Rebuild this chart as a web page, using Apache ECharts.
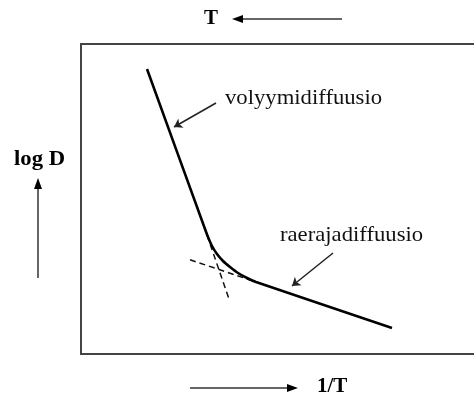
<!DOCTYPE html>
<html>
<head>
<meta charset="utf-8">
<script src="https://cdn.jsdelivr.net/npm/echarts@6/dist/echarts.min.js"></script>
<style>
  html, body { margin: 0; padding: 0; background: #fff; }
  #chart { width: 474px; height: 396px; }
</style>
</head>
<body>
<div id="chart"></div>
<script>
// Arrhenius-type sketch: log D against 1/T (arbitrary units)
const invT = [16.5, 31, 31.75, 32.75, 34, 35.5, 37.25, 39.25, 41.5, 43.75, 77.75];
const logD = [57, 25, 23.4, 21.6, 20, 18.6, 17.4, 16.2, 15.2, 14.4, 5.2];

// Dashed extrapolations of the two straight regimes
const volumeGuide = [[31.5, 23.8], [37, 11]];
const boundaryGuide = [[27.25, 18.85], [43.75, 14.4]];

// Annotation pointers: [tail, head]
const volumeArrow = [[33.75, 50.2], [23.25, 45.4]];
const boundaryArrow = [[63, 20.2], [52.75, 13.6]];

// Annotation texts and their left-centre anchors
const labels = ['volyymidiffuusio', 'raerajadiffuusio'];
const labelAnchors = [[36, 51.2], [49.75, 23.8]];

const serif = '"Liberation Serif", "Times New Roman", serif';

const chart = echarts.init(document.getElementById('chart'), null, { renderer: 'canvas' });

chart.setOption({
  animation: false,
  backgroundColor: '#fff',
  grid: {
    left: 81, top: 44, width: 400, height: 310,
    outerBoundsMode: 'none',
    containLabel: false,
    show: true, borderColor: '#444', borderWidth: 2, backgroundColor: 'transparent'
  },
  xAxis: { type: 'value', min: 0, max: 100, show: false },
  yAxis: { type: 'value', min: 0, max: 62, show: false },
  series: [
    {
      type: 'line',
      data: invT.map((x, i) => [x, logD[i]]),
      symbol: 'none',
      smooth: 0.2,
      lineStyle: { color: '#000', width: 2.6 },
      z: 5
    },
    {
      type: 'line',
      data: volumeGuide,
      symbol: 'none',
      lineStyle: { color: '#111', width: 1.5, type: [6, 4] },
      z: 4
    },
    {
      type: 'line',
      data: boundaryGuide,
      symbol: 'none',
      lineStyle: { color: '#111', width: 1.5, type: [6, 4] },
      z: 4
    },
    {
      type: 'lines',
      coordinateSystem: 'cartesian2d',
      symbol: ['none', 'arrow'],
      symbolSize: 8,
      lineStyle: { color: '#222', width: 1.5, curveness: 0, opacity: 1 },
      data: [{ coords: volumeArrow }, { coords: boundaryArrow }],
      z: 6
    }
  ]
});

// Place the annotation texts at their data anchors
const annotationText = labels.map((txt, i) => {
  const p = chart.convertToPixel({ gridIndex: 0 }, labelAnchors[i]);
  return {
    type: 'text',
    x: p[0], y: p[1],
    scaleX: 1.08,
    style: {
      text: txt,
      font: '21px ' + serif,
      fill: '#111',
      align: 'left',
      verticalAlign: 'middle'
    }
  };
});

const arrowColor = '#333';
const bold = 'bold 21px ' + serif;

chart.setOption({
  graphic: annotationText.concat([
    // T with left-pointing arrow above the box
    { type: 'text', x: 211, y: 19, style: { text: 'T', font: bold, fill: '#000', align: 'center', verticalAlign: 'middle' } },
    { type: 'line', shape: { x1: 342, y1: 19, x2: 240, y2: 19 }, style: { stroke: arrowColor, lineWidth: 1.5 } },
    { type: 'polygon', shape: { points: [[232, 19], [243, 15], [243, 23]] }, style: { fill: '#000' } },

    // log D with upward arrow left of the box
    { type: 'text', x: 14, y: 160, scaleX: 1.08, style: { text: 'log D', font: bold, fill: '#000', align: 'left', verticalAlign: 'middle' } },
    { type: 'line', shape: { x1: 38, y1: 278, x2: 38, y2: 186 }, style: { stroke: arrowColor, lineWidth: 1.5 } },
    { type: 'polygon', shape: { points: [[38, 178], [34, 189], [42, 189]] }, style: { fill: '#000' } },

    // 1/T with right-pointing arrow below the box
    { type: 'line', shape: { x1: 190, y1: 388, x2: 289, y2: 388 }, style: { stroke: arrowColor, lineWidth: 1.5 } },
    { type: 'polygon', shape: { points: [[298, 388], [287, 384], [287, 392]] }, style: { fill: '#000' } },
    { type: 'text', x: 317, y: 387, style: { text: '1/T', font: bold, fill: '#000', align: 'left', verticalAlign: 'middle' } }
  ])
});
</script>
</body>
</html>
